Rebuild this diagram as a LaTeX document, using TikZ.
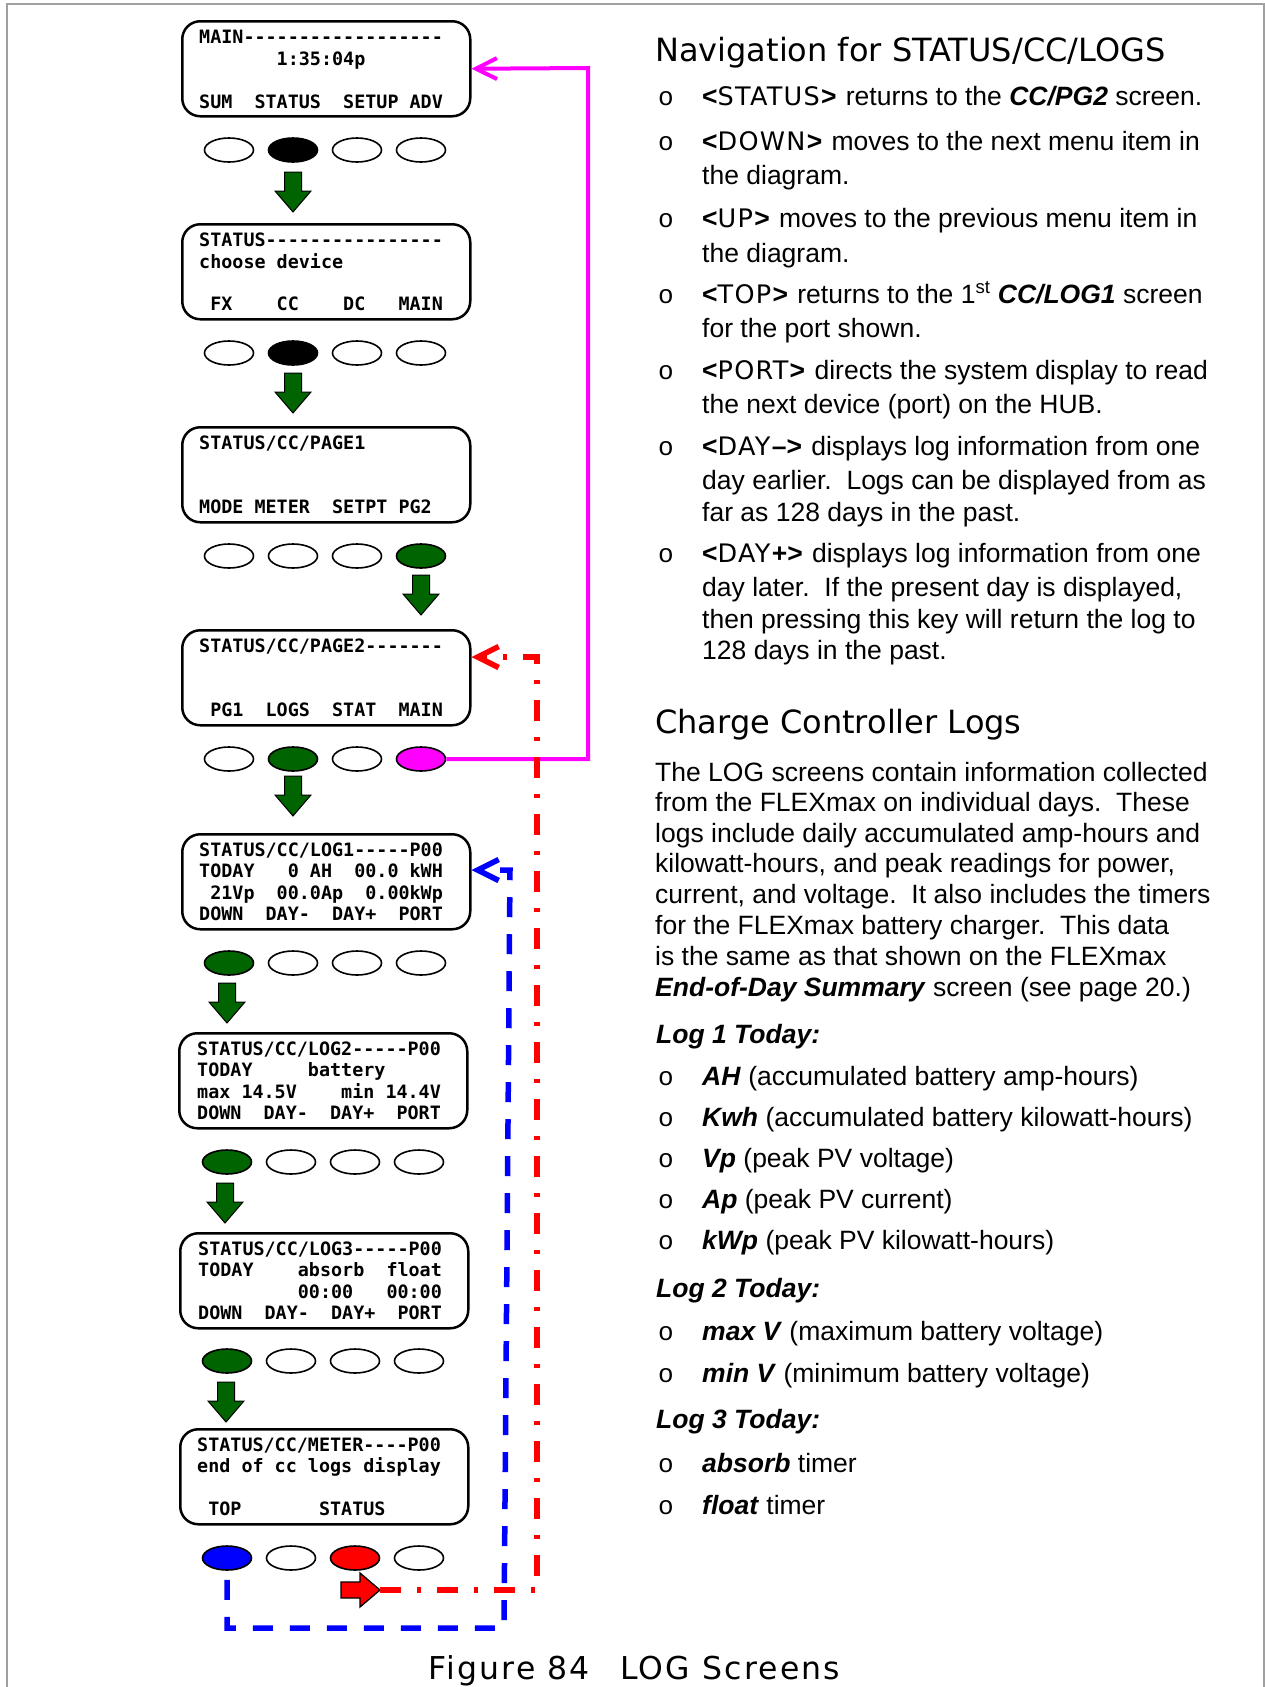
\documentclass[tikz,border=0pt]{standalone}
\usepackage{fontspec}
\setmainfont{Liberation Sans}
\setmonofont{DejaVu Sans Mono}
\newfontfamily\headf{DejaVu Sans}
\newfontfamily\keyfam{DejaVu Sans}[LetterSpace=5]
\newfontfamily\capf{DejaVu Sans}[LetterSpace=7]
\newfontfamily\bulf{Liberation Mono}
\usetikzlibrary{shapes.geometric,arrows.meta}
\definecolor{dkgreen}{RGB}{0,100,0}
\definecolor{framegray}{RGB}{160,160,160}
\definecolor{mag}{RGB}{255,0,255}
\newcommand\lcdfont{\ttfamily\bfseries\fontsize{18.4}{21}\selectfont}
\newcommand\bodyfont{\rmfamily\fontsize{26.5}{30}\selectfont}
\newcommand\headfont{\headf\fontsize{32}{38}\selectfont}
\newcommand\capfont{\capf\fontsize{31.5}{36}\selectfont}
\newcommand\bulletfont{\bulf\fontsize{26}{30}\selectfont}
\newcommand\kwf{\keyfam\fontsize{25.5}{30}\selectfont}
\newcommand\navkey[2]{\textbf{<}{\kwf #1}\textbf{#2>}\hspace{2pt}}
\newcommand\bitx[1]{\textbf{\textit{#1}}}
\tikzset{
  lcdbox/.style={draw, line width=2.5pt, rounded corners=18pt, minimum width=288pt, minimum height=95pt, anchor=north west, inner sep=0pt},
  lcdtxt/.style={anchor=base west, inner sep=0pt, font=\lcdfont},
  btn/.style={draw, ellipse, line width=1.6pt, minimum width=49pt, minimum height=24pt, inner sep=0pt},
  bodytxt/.style={anchor=base west, inner sep=0pt, font=\bodyfont},
  bul/.style={anchor=base, inner sep=0pt, font=\bulletfont},
  headtxt/.style={anchor=base west, inner sep=0pt, font=\headfont},
  magline/.style={draw=mag, line width=4pt},
  redline/.style={draw=red, line width=5.5pt, dash pattern=on 21pt off 16pt on 4pt off 16pt},
  blueline/.style={draw=blue, line width=5.5pt, dash pattern=on 20pt off 17pt},
  barb/.style={-{Straight Barb[length=21pt,width=21pt]}},
  downarrow/.pic={\draw[fill=dkgreen, line width=1pt, line join=miter] (-8.5,0) -- (8.5,0) -- (8.5,19) -- (18,19) -- (0,40) -- (-18,19) -- (-8.5,19) -- cycle;},
  rightarrow/.pic={\draw[fill=red, line width=1.3pt, line join=miter] (0,-8) -- (19,-8) -- (19,-17) -- (39,0) -- (19,17) -- (19,8) -- (0,8) -- cycle;}
}
\begin{document}
\begin{tikzpicture}[x=1pt,y=-1pt]
\useasboundingbox (0,0) rectangle (1265,1687);
\draw[framegray, line width=2pt] (7,1687) -- (7,4) -- (1264,4) -- (1264,1687);

% ---------- LCD screens ----------
\node[lcdbox] (b1) at (181,20) {};
\node[lcdtxt] (b1a) at (199,43) {MAIN------------------};
\node[lcdtxt] (b1b) at (199,65) {~~~~~~~1:35:04p};
\node[lcdtxt] (b1d) at (199,108) {SUM~~STATUS~~SETUP~ADV};

\node[lcdbox] (b2) at (181,223) {};
\node[lcdtxt] (b2a) at (199,246) {STATUS----------------};
\node[lcdtxt] (b2b) at (199,268) {choose~device};
\node[lcdtxt] (b2d) at (199,310) {~FX~~~~CC~~~~DC~~~MAIN};

\node[lcdbox] (b3) at (181,426) {};
\node[lcdtxt] (b3a) at (199,449) {STATUS/CC/PAGE1};
\node[lcdtxt] (b3d) at (199,513) {MODE~METER~~SETPT~PG2};

\node[lcdbox] (b4) at (181,629) {};
\node[lcdtxt] (b4a) at (199,652) {STATUS/CC/PAGE2-------};
\node[lcdtxt] (b4d) at (199,716) {~PG1~~LOGS~~STAT~~MAIN};

\node[lcdbox] (b5) at (181,833) {};
\node[lcdtxt] (b5a) at (199,856) {STATUS/CC/LOG1-----P00};
\node[lcdtxt] (b5b) at (199,877) {TODAY~~~0~AH~~00.0~kWH};
\node[lcdtxt] (b5c) at (199,899) {~21Vp~~00.0Ap~~0.00kWp};
\node[lcdtxt] (b5d) at (199,920) {DOWN~~DAY-~~DAY+~~PORT};

\node[lcdbox] (b6) at (178,1032) {};
\node[lcdtxt] (b6a) at (197,1055) {STATUS/CC/LOG2-----P00};
\node[lcdtxt] (b6b) at (197,1076) {TODAY~~~~~battery};
\node[lcdtxt] (b6c) at (197,1098) {max~14.5V~~~~min~14.4V};
\node[lcdtxt] (b6d) at (197,1119) {DOWN~~DAY-~~DAY+~~PORT};

\node[lcdbox] (b7) at (179,1232) {};
\node[lcdtxt] (b7a) at (198,1255) {STATUS/CC/LOG3-----P00};
\node[lcdtxt] (b7b) at (198,1276) {TODAY~~~~absorb~~float};
\node[lcdtxt] (b7c) at (198,1298) {~~~~~~~~~00:00~~~00:00};
\node[lcdtxt] (b7d) at (198,1319) {DOWN~~DAY-~~DAY+~~PORT};

\node[lcdbox] (b8) at (179,1428) {};
\node[lcdtxt] (b8a) at (197,1451) {STATUS/CC/METER----P00};
\node[lcdtxt] (b8b) at (197,1472) {end~of~cc~logs~display};
\node[lcdtxt] (b8d) at (197,1515) {~TOP~~~~~~~STATUS};

% ---------- buttons ----------
\foreach \i/\x/\f in {1/229/white,2/293/black,3/357/white,4/421/white}
  \node[btn, fill=\f] (k1\i) at (\x,150) {};
\foreach \i/\x/\f in {1/229/white,2/293/black,3/357/white,4/421/white}
  \node[btn, fill=\f] (k2\i) at (\x,353) {};
\foreach \i/\x/\f in {1/229/white,2/293/white,3/357/white,4/421/dkgreen}
  \node[btn, fill=\f] (k3\i) at (\x,556) {};
\foreach \i/\x/\f in {1/229/white,2/293/dkgreen,3/357/white,4/421/mag}
  \node[btn, fill=\f] (k4\i) at (\x,759) {};
\foreach \i/\x/\f in {1/229/dkgreen,2/293/white,3/357/white,4/421/white}
  \node[btn, fill=\f] (k5\i) at (\x,963) {};
\foreach \i/\x/\f in {1/227/dkgreen,2/291/white,3/355/white,4/419/white}
  \node[btn, fill=\f] (k6\i) at (\x,1162) {};
\foreach \i/\x/\f in {1/227/dkgreen,2/291/white,3/355/white,4/419/white}
  \node[btn, fill=\f] (k7\i) at (\x,1361) {};
\foreach \i/\x/\f in {1/227/blue,2/291/white,3/355/red,4/419/white}
  \node[btn, fill=\f] (k8\i) at (\x,1558) {};

% ---------- green step arrows ----------
\pic at (293,172) {downarrow};
\pic at (293,373) {downarrow};
\pic at (421,575) {downarrow};
\pic at (293,776) {downarrow};
\pic at (227,983) {downarrow};
\pic at (225,1183) {downarrow};
\pic at (226,1382) {downarrow};

% ---------- return connectors ----------
\coordinate (mtop) at (588,68);
\draw[magline, barb] (k44.east) -| (mtop) -- (b1.east);

\pic at (341,1590) {rightarrow};
\coordinate (rtip) at (380,1590);
\coordinate (rtop) at (537,657);
\draw[redline, barb] (rtip) -| (rtop) -- (b4.east |- rtop);

\coordinate (bbot) at (504,1628);
\coordinate (btop) at (510,870);
\draw[blueline, barb, shorten <=9pt] (k81.south) |- (bbot) -- (btop) -- (b5.east |- btop);

% ---------- right column: navigation ----------
\node[headtxt] (h1) at (655,61) {Navigation for STATUS/CC/LOGS};

\node[bul] (o1) at (666,105) {o};
\node[bodytxt] (t1) at (702,105) {\navkey{STATUS}{} returns to the \bitx{CC/PG2} screen.};
\node[bul] (o2) at (666,150) {o};
\node[bodytxt] (t2) at (702,150) {\navkey{DOWN}{} moves to the next menu item in};
\node[bodytxt] (t2b) at (702,184) {the diagram.};
\node[bul] (o3) at (666,227) {o};
\node[bodytxt] (t3) at (702,227) {\navkey{UP}{} moves to the previous menu item in};
\node[bodytxt] (t3b) at (702,262) {the diagram.};
\node[bul] (o4) at (666,303) {o};
\node[bodytxt] (t4) at (702,303) {\navkey{TOP}{} returns to the 1\textsuperscript{st} \bitx{CC/LOG1} screen};
\node[bodytxt] (t4b) at (702,337) {for the port shown.};
\node[bul] (o5) at (666,379) {o};
\node[bodytxt] (t5) at (702,379) {\navkey{PORT}{} directs the system display to read};
\node[bodytxt] (t5b) at (702,413) {the next device (port) on the HUB.};
\node[bul] (o6) at (666,455) {o};
\node[bodytxt] (t6) at (702,455) {\navkey{DAY}{–} displays log information from one};
\node[bodytxt] (t6b) at (702,489) {day earlier.\ \ Logs can be displayed from as};
\node[bodytxt] (t6c) at (702,521) {far as 128 days in the past.};
\node[bul] (o7) at (666,562) {o};
\node[bodytxt] (t7) at (702,562) {\navkey{DAY}{+} displays log information from one};
\node[bodytxt] (t7b) at (702,596) {day later.\ \ If the present day is displayed,};
\node[bodytxt] (t7c) at (702,628) {then pressing this key will return the log to};
\node[bodytxt] (t7d) at (702,659) {128 days in the past.};

% ---------- right column: logs ----------
\node[headtxt] (h2) at (655,733) {Charge Controller Logs};
\node[bodytxt] (p1) at (655,781) {The LOG screens contain information collected};
\node[bodytxt] (p2) at (655,811) {from the FLEXmax on individual days.\ \ These};
\node[bodytxt] (p3) at (655,842) {logs include daily accumulated amp-hours and};
\node[bodytxt] (p4) at (655,872) {kilowatt-hours, and peak readings for power,};
\node[bodytxt] (p5) at (655,903) {current, and voltage.\ \ It also includes the timers};
\node[bodytxt] (p6) at (655,934) {for the FLEXmax battery charger.\ \ This data};
\node[bodytxt] (p7) at (655,965) {is the same as that shown on the FLEXmax};
\node[bodytxt] (p8) at (655,996) {\bitx{End-of-Day Summary} screen (see page 20.)};

\node[bodytxt] (l1) at (656,1043) {\bitx{Log 1 Today:}};
\node[bul] (q1) at (666,1085) {o};
\node[bodytxt] (s1) at (702,1085) {\bitx{AH} (accumulated battery amp-hours)};
\node[bul] (q2) at (666,1126) {o};
\node[bodytxt] (s2) at (702,1126) {\bitx{Kwh} (accumulated battery kilowatt-hours)};
\node[bul] (q3) at (666,1167) {o};
\node[bodytxt] (s3) at (702,1167) {\bitx{Vp} (peak PV voltage)};
\node[bul] (q4) at (666,1208) {o};
\node[bodytxt] (s4) at (702,1208) {\bitx{Ap} (peak PV current)};
\node[bul] (q5) at (666,1249) {o};
\node[bodytxt] (s5) at (702,1249) {\bitx{kWp} (peak PV kilowatt-hours)};

\node[bodytxt] (l2) at (656,1297) {\bitx{Log 2 Today:}};
\node[bul] (q6) at (666,1340) {o};
\node[bodytxt] (s6) at (702,1340) {\bitx{max V} (maximum battery voltage)};
\node[bul] (q7) at (666,1382) {o};
\node[bodytxt] (s7) at (702,1382) {\bitx{min V} (minimum battery voltage)};

\node[bodytxt] (l3) at (656,1428) {\bitx{Log 3 Today:}};
\node[bul] (q8) at (666,1472) {o};
\node[bodytxt] (s8) at (702,1472) {\bitx{absorb} timer};
\node[bul] (q9) at (666,1514) {o};
\node[bodytxt] (s9) at (702,1514) {\bitx{float} timer};

% ---------- caption ----------
\node[anchor=base west, inner sep=0pt, font=\capfont] (cap) at (428,1679) {\makebox[192pt][l]{Figure 84}LOG Screens};
\end{tikzpicture}
\end{document}
